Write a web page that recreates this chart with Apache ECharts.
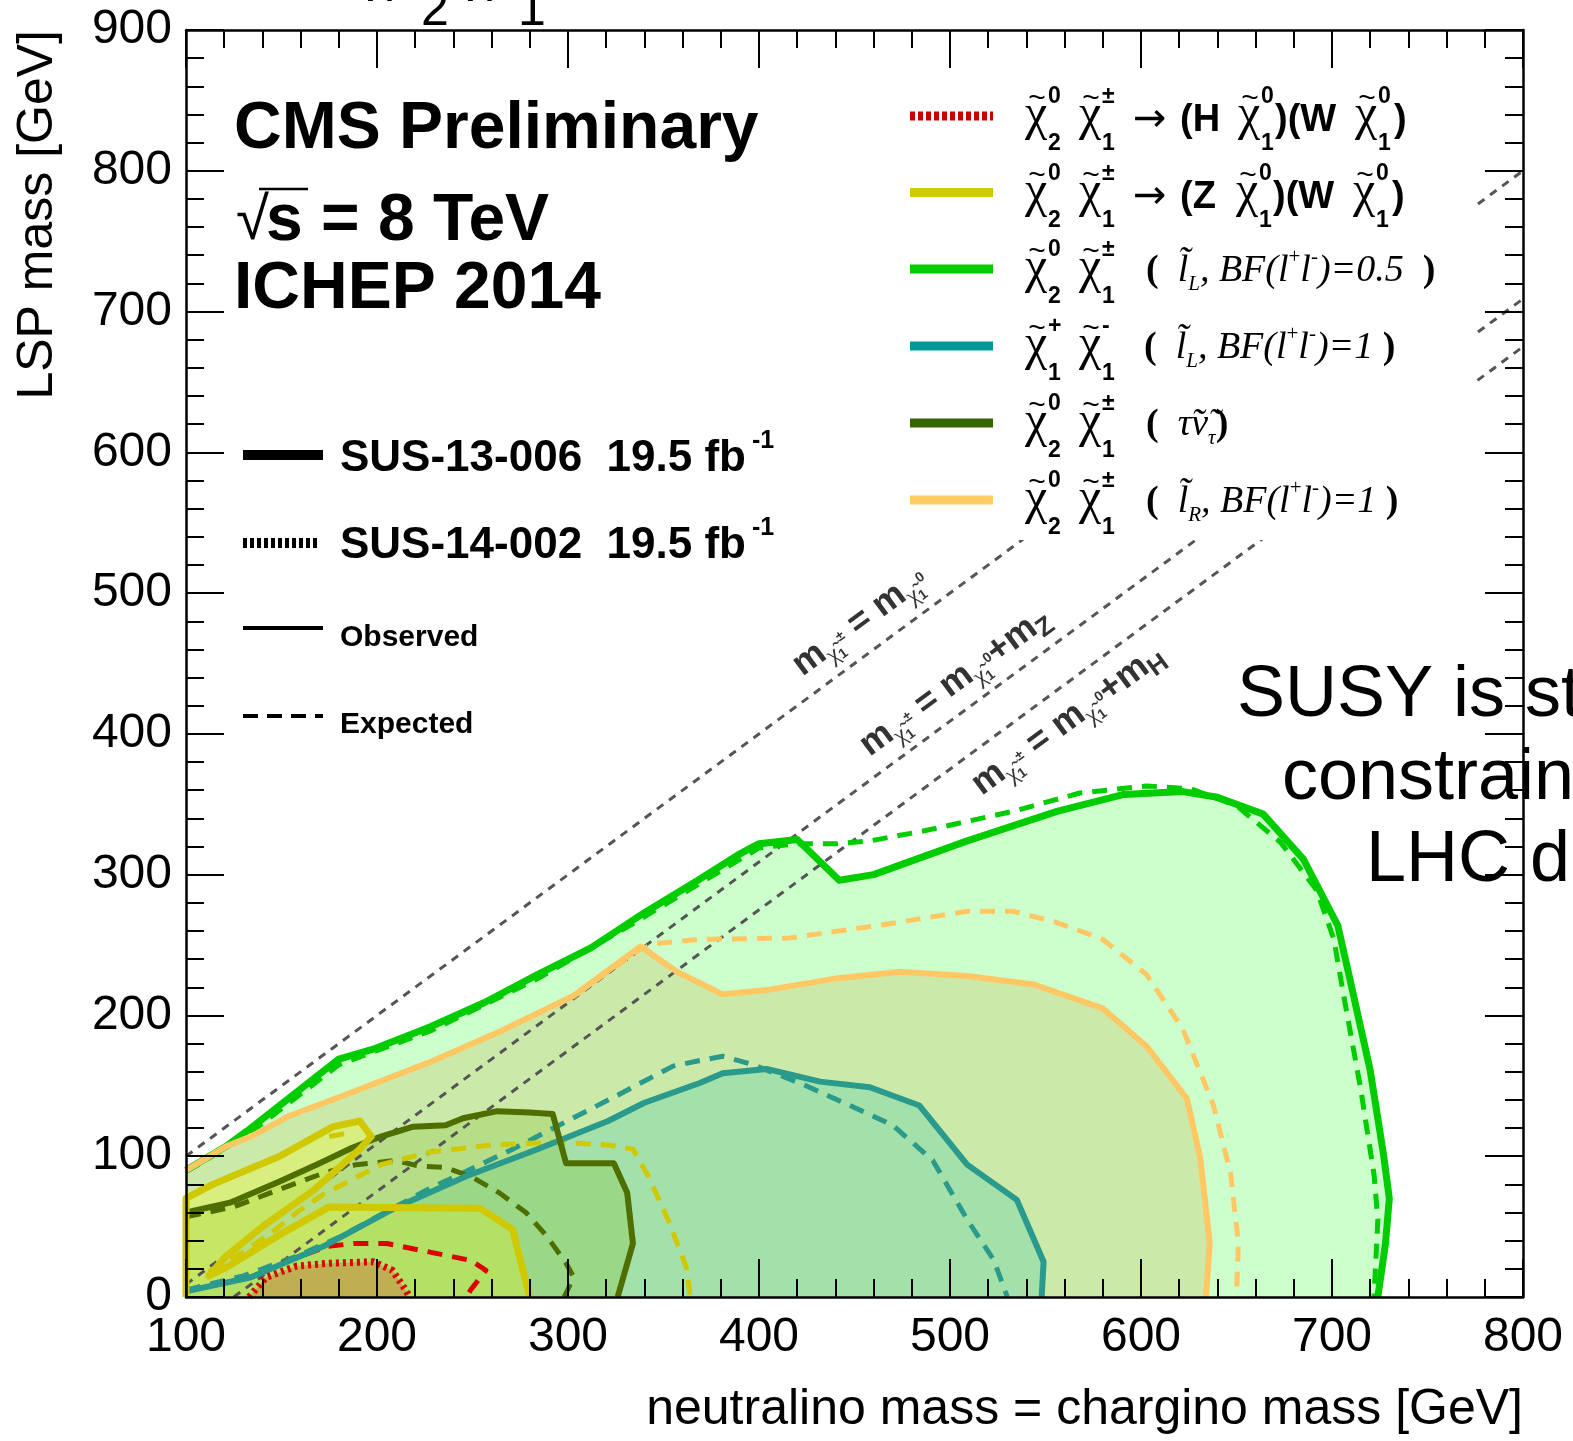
<!DOCTYPE html>
<html><head><meta charset="utf-8">
<script src="https://cdn.jsdelivr.net/npm/echarts@6/dist/echarts.min.js"></script>
<style>html,body{margin:0;padding:0;background:#fff}#c{width:1573px;height:1441px}</style>
</head><body><div id="c"></div>
<script>
// ---------------- data (GeV) ----------------
const X_TICKS = [100, 200, 300, 400, 500, 600, 700, 800];
const Y_TICKS = [0, 100, 200, 300, 400, 500, 600, 700, 800, 900];

const greenObs = [[100,90],[121,107],[132,118],[180,169],[198,176],[228,192],[256,209],[284,229],[312,248],[340,273],[368,296],[389,314],[400,322],[420,325],[442,296],[460,300],[509,324],[556,345],[591,357],[622,359],[640,355],[664,343],[685,311],[703,264],[708,234],[720,161],[727,101],[730,70],[728,38],[724,0]];
const greenExp = [[100,89],[121,106],[132,115],[180,165],[228,189],[284,226],[340,270],[368,293],[400,319],[420,322],[441,322],[458,324],[486,331],[533,345],[568,358],[603,363],[626,361],[650,349],[673,323],[692,289],[701,254],[706,215],[715,148],[722,87],[724,55],[722,0]];
const orangeObs = [[100,90],[121,107],[134,114],[153,128],[190,147],[228,167],[265,189],[303,214],[338,249],[357,231],[381,215],[404,218],[439,226],[474,231],[509,228],[544,222],[580,205],[603,178],[624,141],[631,99],[636,38],[634,0]];
const orangeExp = [[100,90],[121,107],[134,114],[153,128],[190,147],[228,167],[265,189],[303,214],[338,247],[346,251],[368,254],[416,255],[463,264],[509,274],[533,274],[556,266],[580,254],[603,229],[622,190],[638,136],[647,87],[651,38],[650,0]];
const tealObs = [[100,4],[134,14],[172,36],[209,63],[247,86],[284,105],[321,125],[340,138],[369,152],[381,159],[404,162],[432,153],[458,149],[484,136],[509,94],[535,69],[549,25],[548,0]];
const tealExp = [[100,5],[130,15],[158,29],[181,43],[226,76],[271,105],[324,142],[355,164],[369,168],[381,171],[397,165],[423,151],[446,137],[470,122],[491,97],[509,55],[523,26],[530,0]];
const darkObs = [[100,60],[123,67],[149,82],[170,95],[187,106],[202,114],[219,121],[236,122],[245,127],[263,132],[280,131],[292,130],[299,95],[324,95],[331,74],[334,38],[326,0]];
const darkExp = [[100,57],[125,64],[150,77],[172,88],[189,94],[210,97],[222,93],[236,92],[250,85],[264,74],[278,60],[289,43],[299,24],[303,14],[298,0]];
const yellowObs = [[100,0],[100,70],[114,80],[149,100],[177,121],[191,125],[197,114],[191,105],[167,76],[140,50],[121,29],[112,15],[121,21],[150,45],[175,64],[254,63],[271,48],[280,0]];
const yellowExp = [[112,18],[130,32],[147,48],[159,61],[172,73],[185,82],[202,94],[228,103],[260,108],[293,110],[321,108],[334,105],[342,86],[353,53],[362,21],[364,0]];
const yellowExpIsland = [[175,114],[187,117]];
const redObs = [[133,0],[142,14],[158,22],[175,24],[198,25],[208,19],[215,5],[217,0]];
const redExp = [[150,24],[174,36],[188,38],[205,38],[231,31],[249,26],[257,19],[249,5],[247,0]];
// kinematic lines: m_chi = m_lsp + offset
const diagOffsets = [0, 91, 125];

// ---------------- helpers ----------------
const SANS = '"Liberation Sans", Arial, sans-serif';
const SERIF = '"Liberation Serif", "Times New Roman", serif';
const G = [];
function T(x, y, text, font, o) {
  o = o || {};
  const al = o.align || 'left', va = o.va || 'middle';
  const st = {text: text, font: font, fill: o.fill || '#000', align: al, verticalAlign: va, textAlign: al, textVerticalAlign: va};
  if (o.rich) st.rich = o.rich;
  const el = {type: 'text', x: x, y: y, z: 10, silent: true, style: st};
  if (o.rotation !== undefined) el.rotation = o.rotation;
  G.push(el);
}
function L(x1, y1, x2, y2, color, w, dash) {
  G.push({type: 'line', z: 10, silent: true, shape: {x1: x1, y1: y1, x2: x2, y2: y2},
    style: {stroke: color, lineWidth: w, lineDash: dash || null}});
}
function chi(x, y, sup, sub) {
  T(x + 12, y - 17, '~', '30px ' + SANS, {align: 'center'});
  T(x, y, 'χ', '50px ' + SERIF);
  T(x + 23, y - 19, sup, 'bold 23px ' + SANS);
  T(x + 23, y + 28, sub, 'bold 23px ' + SANS);
}

// white box behind the legend (hides the kinematic lines)
G.push({type: 'rect', z: 5, silent: true, shape: {x: 893, y: 74, width: 582, height: 466}, style: {fill: '#fff'}});

// CMS block
T(234, 130, 'CMS Preliminary', 'bold 66px ' + SANS);
T(236, 222, '√', '60px ' + SANS);
L(259, 189, 308, 189, '#000', 2.5);
T(266, 222, 's = 8 TeV', 'bold 66px ' + SANS);
T(234, 290, 'ICHEP 2014', 'bold 66px ' + SANS);

// left legend
L(243, 455, 323, 455, '#000', 10);
T(340, 459, 'SUS-13-006  19.5 fb', 'bold 44px ' + SANS);
T(752, 441, '-1', 'bold 25px ' + SANS);
L(243, 543, 319, 543, '#000', 10, [4, 3]);
T(340, 546, 'SUS-14-002  19.5 fb', 'bold 44px ' + SANS);
T(752, 528, '-1', 'bold 25px ' + SANS);
L(243, 628, 323, 628, '#000', 4);
T(340, 638, 'Observed', 'bold 30px ' + SANS);
L(243, 716, 323, 716, '#000', 4, [15, 9]);
T(340, 725, 'Expected', 'bold 30px ' + SANS);

// right legend
const rows = [116, 192.5, 269, 346, 423, 500];
const legColors = ['#cc0000', '#cccc00', '#00cc00', '#009999', '#336600', '#ffcc66'];
rows.forEach(function (r, i) {
  L(910, r, 993, r, legColors[i], 9, i === 0 ? [5, 3] : null);
});
const richBF = {
  p: {font: 'bold 38px ' + SERIF, lineHeight: 48, fill: '#000'},
  t: {font: 'italic 38px ' + SERIF, lineHeight: 48, fill: '#000'},
  b: {font: 'italic 21px ' + SERIF, lineHeight: 21, verticalAlign: 'bottom', fill: '#000'},
  u: {font: '21px ' + SERIF, lineHeight: 32, verticalAlign: 'top', fill: '#000'}
};
const ARROW = '40px "DejaVu Sans", ' + SANS;
// row 1
chi(1025, rows[0], '0', '2'); chi(1079, rows[0], '±', '1');
T(1133, rows[0] + 5, '→', ARROW);
T(1180, rows[0] + 5, '(H', 'bold 38px ' + SANS);
chi(1238, rows[0], '0', '1');
T(1275, rows[0] + 5, ')(W', 'bold 38px ' + SANS);
chi(1355, rows[0], '0', '1');
T(1394, rows[0] + 5, ')', 'bold 38px ' + SANS);
// row 2
chi(1025, rows[1], '0', '2'); chi(1079, rows[1], '±', '1');
T(1133, rows[1] + 5, '→', ARROW);
T(1180, rows[1] + 5, '(Z', 'bold 38px ' + SANS);
chi(1236, rows[1], '0', '1');
T(1273, rows[1] + 5, ')(W', 'bold 38px ' + SANS);
chi(1353, rows[1], '0', '1');
T(1392, rows[1] + 5, ')', 'bold 38px ' + SANS);
// row 3
chi(1025, rows[2], '0', '2'); chi(1079, rows[2], '±', '1');
T(1146, rows[2] + 2, '{p|(}{t|  l\u0303}{b|L}{t|, BF(l}{u|+}{t|l}{u|-}{t|)=0.5 }{p| )}', '38px ' + SERIF, {rich: richBF});
// row 4
chi(1025, rows[3], '+', '1'); chi(1079, rows[3], '-', '1');
T(1144, rows[3] + 2, '{p|(}{t|  l\u0303}{b|L}{t|, BF(l}{u|+}{t|l}{u|-}{t|)=1}{p| )}', '38px ' + SERIF, {rich: richBF});
// row 5
chi(1025, rows[4], '0', '2'); chi(1079, rows[4], '±', '1');
T(1146, rows[4] + 2, '{p|(}{t|  τ\u0303ν\u0303}{b|τ}{p|)}', '38px ' + SERIF, {rich: richBF});
// row 6
chi(1025, rows[5], '0', '2'); chi(1079, rows[5], '±', '1');
T(1146, rows[5] + 2, '{p|(}{t|  l\u0303}{b|R}{t|, BF(l}{u|+}{t|l}{u|-}{t|)=1}{p| )}', '38px ' + SERIF, {rich: richBF});

// labels of the kinematic lines
const ang = Math.atan((1267 / 900) / (1337 / 700));
const richM = {
  m: {font: 'bold 36px ' + SANS, lineHeight: 46, fill: '#333'},
  c: {font: '24px ' + SERIF, lineHeight: 26, verticalAlign: 'bottom', fill: '#333'},
  s: {font: 'bold 14px ' + SANS, lineHeight: 14, verticalAlign: 'bottom', fill: '#333'},
  u: {font: 'bold 14px ' + SANS, lineHeight: 14, verticalAlign: 'middle', fill: '#333'},
  z: {font: 'bold 26px ' + SANS, lineHeight: 30, verticalAlign: 'bottom', fill: '#333'}
};
const mBase = '{m|m}{c|χ\u0303}{s|1}{u|±}{m| = m}{c|χ\u0303}{s|1}{u|0}';
T(860, 622, mBase, 'bold 36px ' + SANS, {rich: richM, align: 'center', rotation: ang});
T(955, 682, mBase + '{m|+m}{z|Z}', 'bold 36px ' + SANS, {rich: richM, align: 'center', rotation: ang});
T(1068, 720, mBase + '{m|+m}{z|H}', 'bold 36px ' + SANS, {rich: richM, align: 'center', rotation: ang});

// axis titles
T(38, 30, 'LSP mass [GeV]', '50px ' + SANS, {align: 'right', rotation: Math.PI / 2});
T(1523, 1410, 'neutralino mass = chargino mass [GeV]', '50px ' + SANS, {align: 'right'});

// clipped title at the very top
T(368, 2, 'χ', '54px ' + SERIF, {va: 'bottom'});
T(421, 36, '2', '50px ' + SANS, {va: 'bottom'});
T(468, 2, 'χ', '54px ' + SERIF, {va: 'bottom'});
T(518, 36, '1', '50px ' + SANS, {va: 'bottom'});

// overlay text on the right
T(1237, 696, 'SUSY is strongly', '72px ' + SANS);
T(1282, 779, 'constrained by', '72px ' + SANS);
T(1366, 861, 'LHC data', '72px ' + SANS);

// ---------------- chart ----------------
function axisBase(extra) {
  return Object.assign({
    type: 'value', z: 20,
    axisLine: {show: true, onZero: false, lineStyle: {color: '#000', width: 2.5}},
    axisTick: {show: true, inside: true, length: 38, lineStyle: {color: '#000', width: 2}},
    minorTick: {show: true, splitNumber: 5, length: 18, lineStyle: {color: '#000', width: 2}},
    splitLine: {show: false}, minorSplitLine: {show: false}
  }, extra);
}
const labelStyle = {fontSize: 48, fontFamily: SANS, color: '#000'};

function fill(name, data, color) {
  return {name: name + ' fill', type: 'line', data: data, z: 1, silent: true, symbol: 'none', showSymbol: false,
    lineStyle: {opacity: 0}, areaStyle: {color: color, opacity: 1}, clip: true};
}
function line(name, data, color, w, type) {
  return {name: name, type: 'line', data: data, z: 3, silent: true, symbol: 'none', showSymbol: false,
    lineStyle: {color: color, width: w, type: type || 'solid', cap: 'butt', join: 'round'}, clip: true};
}
const DASH = [15, 10];
const series = [
  fill('green', greenObs, 'rgba(0,255,0,0.2)'),
  fill('orange', orangeObs, 'rgba(200,190,100,0.33)'),
  fill('teal', tealObs, 'rgba(77,201,170,0.3)'),
  fill('dark', darkObs, 'rgba(133,197,57,0.3)'),
  fill('yellow', yellowObs, 'rgba(255,255,0,0.25)'),
  fill('red', redObs, 'rgba(220,60,40,0.3)')
];
diagOffsets.forEach(function (d) {
  const x0 = Math.max(X_TICKS[0], d);
  series.push({name: 'diag' + d, type: 'line', z: 2, silent: true, symbol: 'none', clip: true,
    data: [[x0, x0 - d], [800, 800 - d]],
    lineStyle: {color: '#555', width: 3, type: [8, 7]}});
});
series.push(
  line('green exp', greenExp, '#00cc00', 5, DASH),
  line('orange exp', orangeExp, '#ffc864', 5, DASH),
  line('teal exp', tealExp, '#2a9a8c', 5, DASH),
  line('dark exp', darkExp, '#4f6e00', 5, DASH),
  line('yellow exp', yellowExp, '#d0c800', 5, DASH),
  line('yellow exp island', yellowExpIsland, '#d0c800', 5, DASH),
  line('red exp', redExp, '#dd0000', 5, DASH),
  line('green obs', greenObs, '#00cc00', 7),
  line('orange obs', orangeObs, '#ffc864', 6),
  line('teal obs', tealObs, '#2a9a8c', 6),
  line('dark obs', darkObs, '#4f6e00', 6),
  line('yellow obs', yellowObs, '#d0c800', 7),
  line('red obs', redObs, '#dd0000', 7, [3, 4])
);

const chart = echarts.init(document.getElementById('c'), null, {renderer: 'canvas'});
chart.setOption({
  backgroundColor: '#fff',
  animation: false,
  grid: {left: 186, right: 50, top: 30, bottom: 144, containLabel: false},
  xAxis: [
    axisBase({min: X_TICKS[0], max: X_TICKS[X_TICKS.length - 1], interval: 100, position: 'bottom',
      axisLabel: Object.assign({}, labelStyle, {margin: 17, formatter: function (v) { return X_TICKS.indexOf(v) >= 0 ? String(v) : ''; }})}),
    axisBase({min: X_TICKS[0], max: X_TICKS[X_TICKS.length - 1], interval: 100, position: 'top', axisLabel: {show: false}})
  ],
  yAxis: [
    axisBase({min: Y_TICKS[0], max: Y_TICKS[Y_TICKS.length - 1], interval: 100, position: 'left',
      axisLabel: Object.assign({}, labelStyle, {margin: 14, formatter: function (v) { return Y_TICKS.indexOf(v) >= 0 ? String(v) : ''; }})}),
    axisBase({min: Y_TICKS[0], max: Y_TICKS[Y_TICKS.length - 1], interval: 100, position: 'right', axisLabel: {show: false}})
  ],
  series: series,
  graphic: {elements: G}
});
</script>
</body></html>
